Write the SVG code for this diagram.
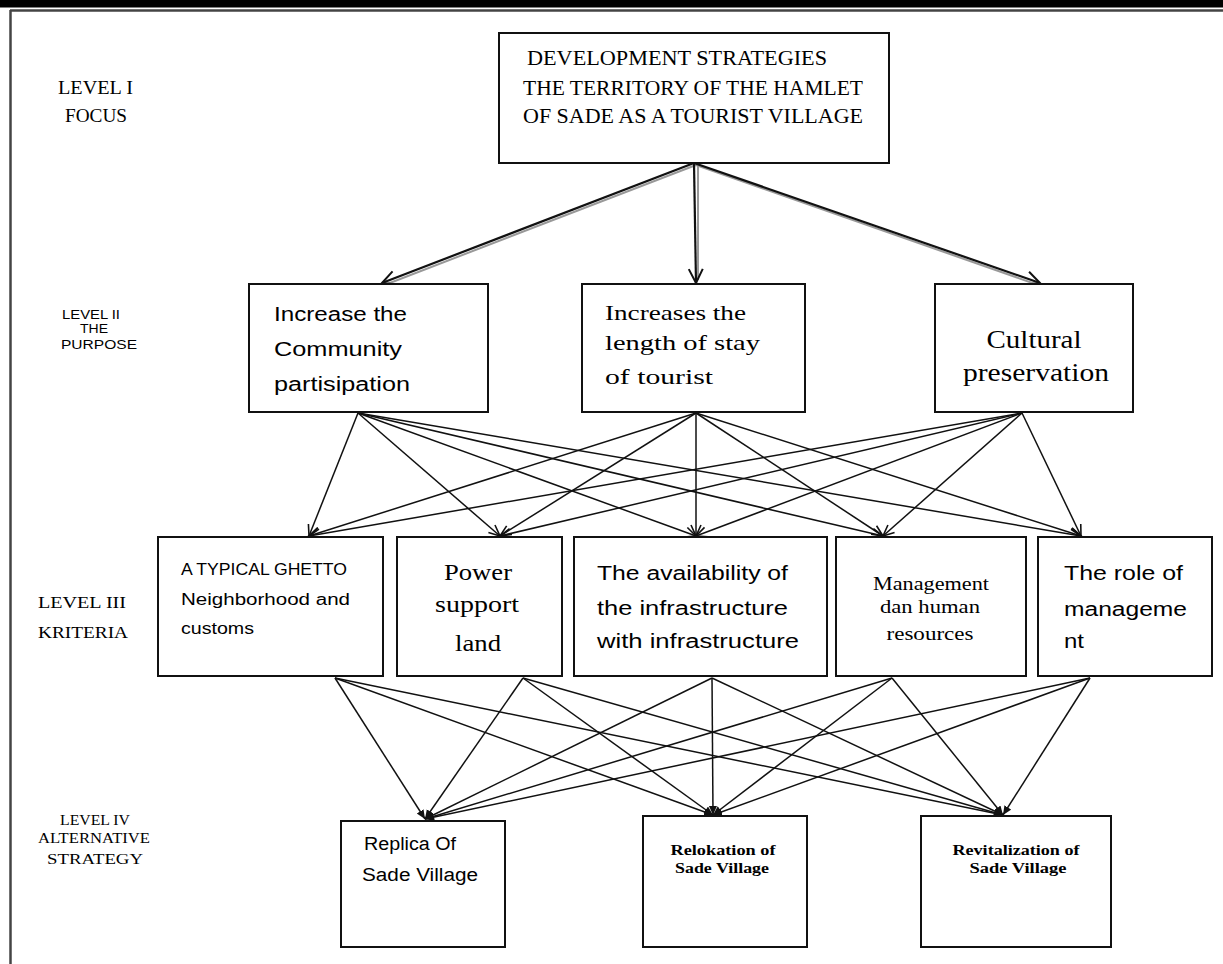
<svg xmlns="http://www.w3.org/2000/svg" width="1223" height="964" viewBox="0 0 1223 964">
<style>
.box{fill:#fff;stroke:#111;stroke-width:2}
.sf{font-family:"Liberation Serif","Times New Roman",serif;fill:#000}
.ss{font-family:"Liberation Sans",Arial,sans-serif;fill:#000}
.lbl{font-family:"Liberation Serif","Times New Roman",serif;fill:#000}
.c2 line{stroke:#111;stroke-width:1.5;marker-end:url(#av)}
.c3 line{stroke:#111;stroke-width:1.5;marker-end:url(#af)}
.c1 .sh{stroke:#999;stroke-width:2}
.c1 .mn{stroke:#111;stroke-width:2.2;marker-end:url(#ab)}
</style>
<defs>
<marker id="av" markerUnits="userSpaceOnUse" markerWidth="14" markerHeight="14" refX="12" refY="6" orient="auto"><path d="M1,1 L12,6 L1,11" fill="none" stroke="#111" stroke-width="1.6"/></marker>
<marker id="ab" markerUnits="userSpaceOnUse" markerWidth="18" markerHeight="18" refX="15" refY="8" orient="auto"><path d="M1,1 L15,8 L1,15" fill="none" stroke="#111" stroke-width="2"/></marker>
<marker id="af" markerUnits="userSpaceOnUse" markerWidth="12" markerHeight="12" refX="9" refY="4" orient="auto"><path d="M0,0 L9,4 L0,8 z" fill="#111"/></marker>
</defs>
<rect x="0" y="0" width="1223" height="7.5" fill="#000"/>
<line x1="10" y1="10.5" x2="1223" y2="10.5" stroke="#444" stroke-width="2.5"/>
<line x1="10.5" y1="10" x2="10.5" y2="964" stroke="#444" stroke-width="2.5"/>

<g id="labels">
<text class="lbl" font-size="18" x="58" y="94" textLength="75" lengthAdjust="spacingAndGlyphs">LEVEL I</text>
<text class="lbl" font-size="18" x="65" y="122" textLength="62" lengthAdjust="spacingAndGlyphs">FOCUS</text>
<text class="ss" font-size="12" x="62" y="319" textLength="58" lengthAdjust="spacingAndGlyphs">LEVEL II</text>
<text class="ss" font-size="12" x="80" y="333" textLength="28" lengthAdjust="spacingAndGlyphs">THE</text>
<text class="ss" font-size="12" x="61" y="349" textLength="76" lengthAdjust="spacingAndGlyphs">PURPOSE</text>
<text class="lbl" font-size="17" x="38" y="608" textLength="88" lengthAdjust="spacingAndGlyphs">LEVEL III</text>
<text class="lbl" font-size="17" x="38" y="638" textLength="90" lengthAdjust="spacingAndGlyphs">KRITERIA</text>
<text class="lbl" font-size="14" x="60" y="825" textLength="70" lengthAdjust="spacingAndGlyphs">LEVEL IV</text>
<text class="lbl" font-size="14" x="38" y="843" textLength="112" lengthAdjust="spacingAndGlyphs">ALTERNATIVE</text>
<text class="lbl" font-size="14" x="47" y="864" textLength="96" lengthAdjust="spacingAndGlyphs">STRATEGY</text>
</g>

<g id="conn1" class="c1">
<line class="sh" x1="696" y1="165" x2="382" y2="286"/>
<line class="sh" x1="696" y1="165" x2="1041" y2="286"/>
<line class="sh" x1="698" y1="165" x2="698" y2="280"/>
<line class="mn" x1="694" y1="163" x2="382" y2="283"/>
<line class="mn" x1="694" y1="163" x2="696" y2="283"/>
<line class="mn" x1="694" y1="163" x2="1040" y2="283"/>
</g>

<g id="conn2" class="c2">
<line x1="358" y1="413" x2="309" y2="536"/>
<line x1="358" y1="413" x2="500" y2="536"/>
<line x1="358" y1="413" x2="696" y2="536"/>
<line x1="358" y1="413" x2="883" y2="536"/>
<line x1="358" y1="413" x2="1081" y2="536"/>
<line x1="696" y1="413" x2="309" y2="536"/>
<line x1="696" y1="413" x2="500" y2="536"/>
<line x1="696" y1="413" x2="696" y2="536"/>
<line x1="696" y1="413" x2="883" y2="536"/>
<line x1="696" y1="413" x2="1081" y2="536"/>
<line x1="1022" y1="413" x2="309" y2="536"/>
<line x1="1022" y1="413" x2="500" y2="536"/>
<line x1="1022" y1="413" x2="696" y2="536"/>
<line x1="1022" y1="413" x2="883" y2="536"/>
<line x1="1022" y1="413" x2="1081" y2="536"/>
</g>

<g id="conn3" class="c3">
<line x1="335" y1="678" x2="425" y2="819"/>
<line x1="335" y1="678" x2="713" y2="815"/>
<line x1="335" y1="678" x2="1003" y2="815"/>
<line x1="523" y1="678" x2="425" y2="819"/>
<line x1="523" y1="678" x2="713" y2="815"/>
<line x1="523" y1="678" x2="1003" y2="815"/>
<line x1="712" y1="678" x2="425" y2="819"/>
<line x1="712" y1="678" x2="713" y2="815"/>
<line x1="712" y1="678" x2="1003" y2="815"/>
<line x1="892" y1="678" x2="425" y2="819"/>
<line x1="892" y1="678" x2="713" y2="815"/>
<line x1="892" y1="678" x2="1003" y2="815"/>
<line x1="1090" y1="678" x2="425" y2="819"/>
<line x1="1090" y1="678" x2="713" y2="815"/>
<line x1="1090" y1="678" x2="1003" y2="815"/>
</g>

<g id="focus">
<rect class="box" x="499" y="33" width="390" height="130"/>
<text class="sf" font-size="22" x="527" y="65" textLength="300" lengthAdjust="spacingAndGlyphs">DEVELOPMENT STRATEGIES</text>
<text class="sf" font-size="22" x="523" y="95" textLength="340" lengthAdjust="spacingAndGlyphs">THE TERRITORY  OF THE HAMLET</text>
<text class="sf" font-size="22" x="523" y="123" textLength="340" lengthAdjust="spacingAndGlyphs">OF SADE AS A TOURIST  VILLAGE</text>
</g>

<g id="purpose1">
<rect class="box" x="249" y="284" width="239" height="128"/>
<text class="ss" font-size="20" x="274" y="321" textLength="133" lengthAdjust="spacingAndGlyphs">Increase the</text>
<text class="ss" font-size="20" x="274" y="356" textLength="128" lengthAdjust="spacingAndGlyphs">Community</text>
<text class="ss" font-size="20" x="274" y="391" textLength="136" lengthAdjust="spacingAndGlyphs">partisipation</text>
</g>
<g id="purpose2">
<rect class="box" x="582" y="284" width="223" height="128"/>
<text class="sf" font-size="22" x="605" y="320" textLength="141" lengthAdjust="spacingAndGlyphs">Increases the</text>
<text class="sf" font-size="22" x="605" y="350" textLength="155" lengthAdjust="spacingAndGlyphs">length of stay</text>
<text class="sf" font-size="22" x="605" y="384" textLength="108" lengthAdjust="spacingAndGlyphs">of tourist</text>
</g>
<g id="purpose3">
<rect class="box" x="935" y="284" width="198" height="128"/>
<text class="sf" font-size="25" x="1034" y="348" text-anchor="middle" textLength="95" lengthAdjust="spacingAndGlyphs">Cultural</text>
<text class="sf" font-size="25" x="1036" y="381" text-anchor="middle" textLength="146" lengthAdjust="spacingAndGlyphs">preservation</text>
</g>

<g id="kriteria1">
<rect class="box" x="158" y="537" width="225" height="139"/>
<text class="ss" font-size="16" x="181" y="575" textLength="166" lengthAdjust="spacingAndGlyphs">A TYPICAL GHETTO</text>
<text class="ss" font-size="16" x="181" y="605" textLength="169" lengthAdjust="spacingAndGlyphs">Neighborhood and</text>
<text class="ss" font-size="16" x="181" y="634" textLength="73" lengthAdjust="spacingAndGlyphs">customs</text>
</g>
<g id="kriteria2">
<rect class="box" x="397" y="537" width="165" height="139"/>
<text class="sf" font-size="23" x="478" y="580" text-anchor="middle" textLength="68" lengthAdjust="spacingAndGlyphs">Power</text>
<text class="sf" font-size="23" x="477" y="612" text-anchor="middle" textLength="84" lengthAdjust="spacingAndGlyphs">support</text>
<text class="sf" font-size="23" x="478" y="651" text-anchor="middle" textLength="46" lengthAdjust="spacingAndGlyphs">land</text>
</g>
<g id="kriteria3">
<rect class="box" x="574" y="537" width="253" height="139"/>
<text class="ss" font-size="20" x="597" y="580" textLength="191" lengthAdjust="spacingAndGlyphs">The availability of</text>
<text class="ss" font-size="20" x="597" y="615" textLength="191" lengthAdjust="spacingAndGlyphs">the infrastructure</text>
<text class="ss" font-size="20" x="597" y="648" textLength="202" lengthAdjust="spacingAndGlyphs">with infrastructure</text>
</g>
<g id="kriteria4">
<rect class="box" x="836" y="537" width="190" height="139"/>
<text class="sf" font-size="18" x="931" y="590" text-anchor="middle" textLength="116" lengthAdjust="spacingAndGlyphs">Management</text>
<text class="sf" font-size="18" x="930" y="613" text-anchor="middle" textLength="100" lengthAdjust="spacingAndGlyphs">dan human</text>
<text class="sf" font-size="18" x="930" y="640" text-anchor="middle" textLength="87" lengthAdjust="spacingAndGlyphs">resources</text>
</g>
<g id="kriteria5">
<rect class="box" x="1038" y="537" width="174" height="139"/>
<text class="ss" font-size="20" x="1064" y="580" textLength="119" lengthAdjust="spacingAndGlyphs">The role of</text>
<text class="ss" font-size="20" x="1064" y="616" textLength="123" lengthAdjust="spacingAndGlyphs">manageme</text>
<text class="ss" font-size="20" x="1064" y="648" textLength="20" lengthAdjust="spacingAndGlyphs">nt</text>
</g>

<g id="alt1">
<rect class="box" x="341" y="821" width="164" height="126"/>
<text class="ss" font-size="18" x="364" y="850" textLength="92" lengthAdjust="spacingAndGlyphs">Replica Of</text>
<text class="ss" font-size="18" x="362" y="881" textLength="116" lengthAdjust="spacingAndGlyphs">Sade Village</text>
</g>
<g id="alt2">
<rect class="box" x="643" y="816" width="164" height="131"/>
<text class="sf" font-weight="bold" font-size="14" x="723" y="855" text-anchor="middle" textLength="105" lengthAdjust="spacingAndGlyphs">Relokation of</text>
<text class="sf" font-weight="bold" font-size="14" x="722" y="873" text-anchor="middle" textLength="94" lengthAdjust="spacingAndGlyphs">Sade Village</text>
</g>
<g id="alt3">
<rect class="box" x="921" y="816" width="190" height="131"/>
<text class="sf" font-weight="bold" font-size="14" x="1016" y="855" text-anchor="middle" textLength="127" lengthAdjust="spacingAndGlyphs">Revitalization of</text>
<text class="sf" font-weight="bold" font-size="14" x="1018" y="873" text-anchor="middle" textLength="97" lengthAdjust="spacingAndGlyphs">Sade Village</text>
</g>
</svg>
